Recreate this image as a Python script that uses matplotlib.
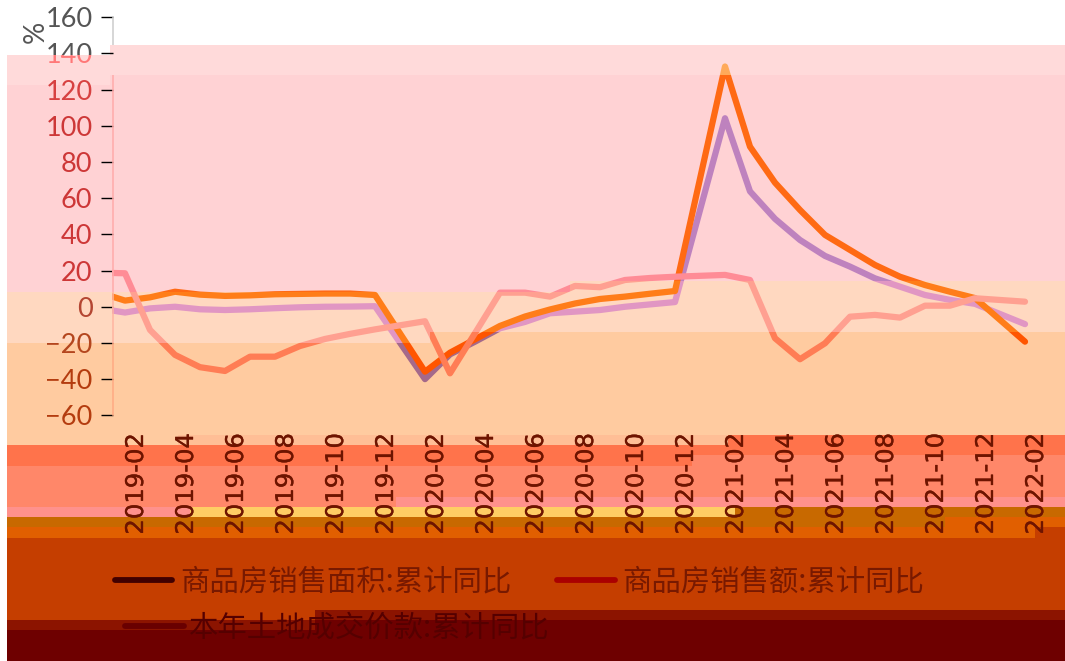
import matplotlib
matplotlib.use('Agg')
import matplotlib.pyplot as plt
import matplotlib.patheffects as pe
from matplotlib.lines import Line2D
from matplotlib.patches import Rectangle
from matplotlib.transforms import Bbox, ScaledTranslation
import pandas as pd

W, H = 1065, 661

all_months = pd.date_range('2018-12', '2022-02', freq='MS').strftime('%Y-%m').tolist()
data_months = [m for m in all_months if not m.endswith('-01')]

sales_area = [1.3, -3.2, -0.9, 0.0, -1.4, -1.8, -1.4, -0.8, -0.3, 0.0, 0.1, 0.3,
              -40.0, -26.3, -19.3, -11.9, -8.4, -3.6, -2.7, -1.8, 0.0, 1.3, 2.6,
              104.2, 63.8, 48.6, 36.9, 28.1, 22.2, 15.7, 11.1, 6.5, 3.8, 1.6,
              -9.6]
sales_amount = [12.2, 3.4, 5.2, 8.3, 6.7, 6.0, 6.3, 6.9, 7.1, 7.3, 7.3, 6.5,
                -35.9, -25.4, -18.0, -10.6, -5.4, -1.5, 1.8, 4.3, 5.6, 7.2, 8.7,
                132.8, 88.5, 68.6, 53.5, 39.7, 31.4, 23.1, 16.6, 12.0, 8.3, 4.8,
                -19.3]
land_fee = [19.2, 18.5, -12.8, -26.6, -33.4, -35.5, -27.6, -27.6, -21.7, -17.8, -15.0, -12.5,
            -8.0, -36.8, -14.6, 7.8, 7.8, 5.6, 11.5, 10.8, 14.8, 15.9, 16.6,
            17.6, 14.8, -17.4, -29.0, -20.2, -5.5, -4.5, -6.0, 0.6, 0.6, 4.7,
            2.8]

series_names = ['商品房销售面积:累计同比', '商品房销售额:累计同比', '本年土地成交价款:累计同比']
y_ticks = [160, 140, 120, 100, 80, 60, 40, 20, 0, -20, -40, -60]
x_tick_months = [m for m in all_months if int(m[-2:]) % 2 == 0 and m >= '2019-02']


def rgb(r, g, b):
    return (r / 255, g / 255, b / 255)


def fx(px):
    return px / W


def fy(py):
    return 1 - py / H


# colour steps, each one paints from its top edge down to the bottom of the picture
steps = [
    (rgb(255, 218, 218), [(7, 110, 55), (110, 1065, 45)]),
    (rgb(255, 210, 212), [(7, 110, 85), (110, 1065, 75)]),
    (rgb(255, 216, 192), [(7, 570, 291.7), (570, 1065, 281)]),
    (rgb(255, 203, 160), [(7, 430, 342.7), (430, 1065, 332.3)]),
    (rgb(255, 190, 150), [(178, 728, 435)]),
    (rgb(255, 115, 75), [(7, 178, 445), (178, 728, 445), (728, 1065, 435)]),
    (rgb(255, 135, 105), [(7, 692, 466), (692, 1065, 455)]),
    (rgb(255, 145, 140), [(7, 396, 507), (396, 1065, 497)]),
    (rgb(255, 205, 100), [(190, 735, 507)]),
    (rgb(200, 105, 0), [(7, 735, 517), (735, 1065, 507)]),
    (rgb(225, 95, 0), [(7, 945, 527), (945, 1065, 517)]),
    (rgb(197, 62, 0), [(7, 1035, 538), (1035, 1065, 527)]),
    (rgb(140, 20, 0), [(7, 315, 620), (315, 1065, 610)]),
    (rgb(110, 0, 0), [(7, 315, 630), (315, 1065, 620)]),
]

# pieces of the plot area and how the lines look inside them: area, amount, land, axis
zones = [
    ((112, 1065, 0, 45), ['#BE82BE', '#FF6A14', '#FF8C96', '#CCCCCC']),
    ((112, 1065, 45, 75), ['#BE82BE', '#FFAA5A', '#FF8C96', 'none']),
    ((112, 570, 75, 291.7), ['#BE82BE', '#FF6A14', '#FF8C96', '#FFAAAA']),
    ((570, 1065, 75, 281), ['#BE82BE', '#FF6A14', '#FF8C96', '#FFAAAA']),
    ((112, 430, 291.7, 342.7), ['#E196C3', '#FF7D19', '#FFA091', '#FFB4A0']),
    ((430, 570, 291.7, 332.3), ['#E196C3', '#FF7D19', '#FFA091', '#FFB4A0']),
    ((570, 1065, 281, 332.3), ['#E196C3', '#FF7D19', '#FFA091', '#FFB4A0']),
    ((112, 430, 342.7, 440), ['#A5698A', '#FF5500', '#FF7D55', '#FFAA82']),
    ((430, 1065, 332.3, 440), ['#A5698A', '#FF5500', '#FF7D55', '#FFAA82']),
]

plt.rcParams['font.family'] = ['Lato', 'DejaVu Sans']
fig = plt.figure(figsize=(W / 100, H / 100), dpi=100)
fig.patch.set_facecolor('white')

for color, parts in steps:
    for x0, x1, top in parts:
        fig.add_artist(Rectangle((fx(x0), 0), fx(x1) - fx(x0), fy(top), transform=fig.transFigure,
                                 facecolor=color, edgecolor='none', zorder=-1))

ax = fig.add_axes([fx(112.5), fy(415.3), fx(1037.5) - fx(112.5), fy(17.3) - fy(415.3)])
ax.patch.set_visible(False)
for side in ax.spines:
    ax.spines[side].set_visible(False)

xs = [all_months.index(m) for m in data_months]

for (x0, x1, y0, y1), colors in zones:
    clip = Rectangle((fx(x0), fy(y1)), fx(x1) - fx(x0), fy(y0) - fy(y1), transform=fig.transFigure)
    for values, color in zip([sales_area, sales_amount, land_fee], colors):
        line, = ax.plot(xs, values, color=color, lw=4.5, solid_capstyle='round', solid_joinstyle='round')
        line.set_clip_path(clip)
    edge = Line2D([fx(112.7), fx(112.7)], [fy(17.3), fy(415.3)], transform=fig.transFigure,
                  color=colors[3], lw=1.1, zorder=2)
    fig.add_artist(edge)
    edge.set_clip_path(clip)

ax.set_xlim(1.5, 38.5)
ax.set_ylim(-60, 160)

# y axis
ax.set_yticks(y_ticks)
ax.tick_params(axis='y', length=8.6, width=1.0, pad=5.8, labelsize=19.5)
tick_colors = {160: '#CCCCCC', 140: 'none', 120: '#FFAAAA', 100: '#FFAAAA', 80: '#FFAAAA', 60: '#FFAAAA',
               40: '#FFAAAA', 20: '#FFAAAA', 0: '#FFB4A0', -20: '#FFAA82', -40: '#FFAA82', -60: '#FFAA82'}
label_colors = {160: '#555555', 140: '#555555', 120: '#D74141', 100: '#CD3737', 80: '#CD3737', 60: '#CD3737',
                40: '#CD3737', 20: '#CD3737', 0: '#B44632', -20: '#B4461E', -40: '#B43C0F', -60: '#B43C0F'}
for value, tick in zip(y_ticks, ax.yaxis.get_major_ticks()):
    tick.tick1line.set_color(tick_colors[value])
    tick.label1.set_color(label_colors[value])
    if value == 140:
        tick.label1.set_clip_box(Bbox([[0, fy(55) * H], [200, H]]))
        tick.label1.set_clip_on(True)
        lower = ax.text(0, 140, '140', color='#FF7878', fontsize=19.5, ha='right', va='center_baseline',
                        transform=ax.get_yaxis_transform() + ScaledTranslation(-20 / 100, 0, fig.dpi_scale_trans))
        lower.set_clip_box(Bbox([[0, 0], [200, fy(55) * H]]))
        lower.set_clip_on(True)

fig.text(fx(36), fy(32), '%', rotation=90, fontsize=20, color='#555555', ha='center', va='center')

# x axis
ticks_at = [all_months.index(m) for m in x_tick_months]
ax.set_xticks(ticks_at)
ax.set_xticklabels(x_tick_months, rotation=90, family='DejaVu Sans', fontsize=17.5, color='#6E1400')
ax.tick_params(axis='x', length=0, pad=13)
shift = ScaledTranslation(11 / 100, 0, fig.dpi_scale_trans)
for label in ax.get_xticklabels():
    label.set_transform(label.get_transform() + shift)
    label.set_clip_box(Bbox([[0, fy(533) * H], [W, H]]))
    label.set_clip_on(True)
    label.set_path_effects([pe.withStroke(linewidth=0.25, foreground='#6E1400')])

# legend
legend_items = [
    (115, 172, 580, 180, series_names[0], '#410000', '#781900'),
    (557, 615, 580, 622, series_names[1], '#AA0000', '#781900'),
    (125, 184, 626, 189, series_names[2], '#690000', '#550000'),
]
for x0, x1, y, text_x, name, line_color, text_color in legend_items:
    fig.add_artist(Line2D([fx(x0), fx(x1)], [fy(y), fy(y)], transform=fig.transFigure, color=line_color,
                          lw=4.2, solid_capstyle='round'))
    fig.text(fx(text_x), fy(y + 2), name, family=['Noto Sans CJK SC', 'DejaVu Sans'], fontsize=21.2,
             color=text_color, ha='left', va='center')

fig.savefig('out.png', dpi=100)
